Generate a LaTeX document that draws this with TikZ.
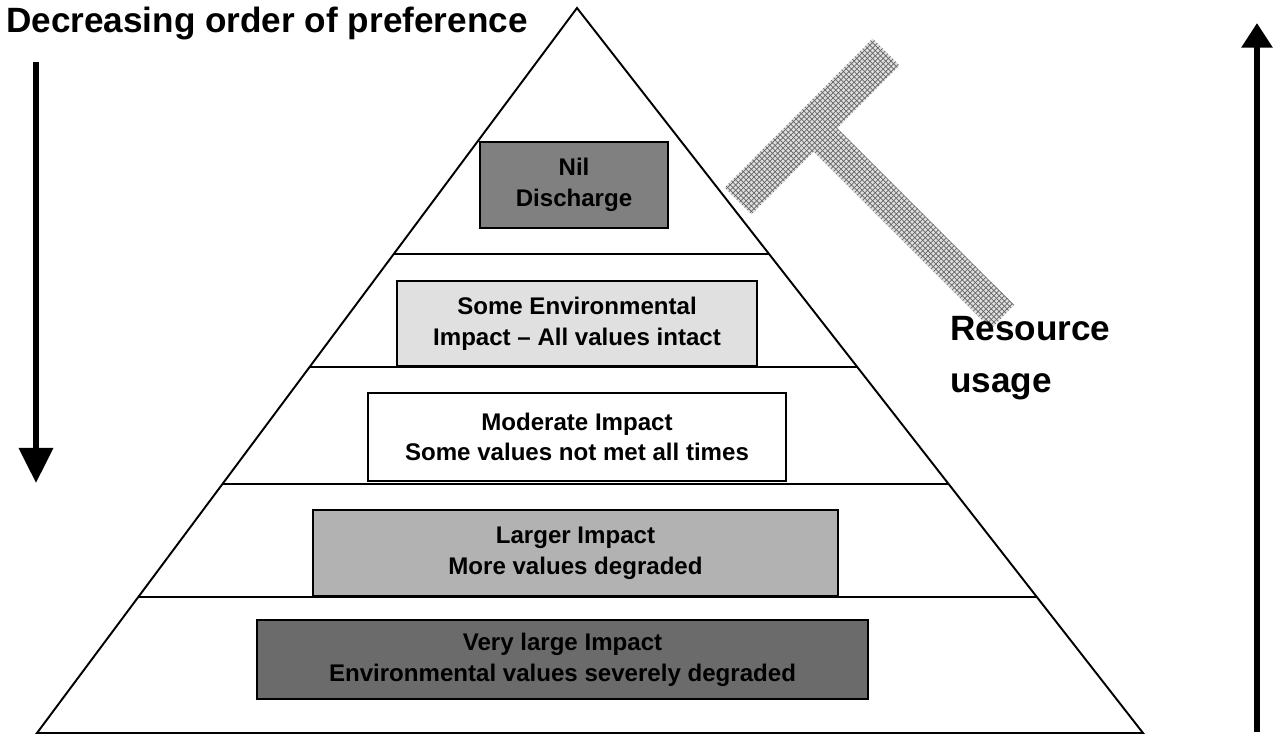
\documentclass[tikz,border=0pt]{standalone}
\usepackage{fontspec}
\setsansfont{Liberation Sans}
\usetikzlibrary{calc,arrows.meta,patterns}

\begin{document}
\begin{tikzpicture}[x=0.2mm, y=-0.2mm,
    layer/.style={draw=black, line width=1.2pt, rectangle, align=center, inner sep=0pt,
        font=\sffamily\bfseries\fontsize{13.7}{17.5}\selectfont},
    divider/.style={line width=1.3pt},
    bigarrow/.style={line width=3.4pt, draw=black}]
    \useasboundingbox (0,0) rectangle (1277,736);

    % pyramid outline
    \coordinate (apex) at (577,8);
    \coordinate (baseL) at (37,733);
    \coordinate (baseR) at (1143,733);
    \draw[line width=1.1pt, line join=miter] (apex) -- (baseL) -- (baseR) -- cycle;

    \draw[divider] ($(apex)!0.339!(baseL)$) -- ($(apex)!0.339!(baseR)$);
    \draw[divider] ($(apex)!0.495!(baseL)$) -- ($(apex)!0.495!(baseR)$);
    \draw[divider] ($(apex)!0.657!(baseL)$) -- ($(apex)!0.657!(baseR)$);
    \draw[divider] ($(apex)!0.812!(baseL)$) -- ($(apex)!0.812!(baseR)$);

    \node (Nil) [layer, fill=black!50, minimum width=37.6mm, minimum height=17.2mm] at (574,185)
    {Nil\\Discharge};
    \node (Some) [layer, fill=black!12, minimum width=72mm, minimum height=17mm] at (577,323.5)
    {Some Environmental\\Impact -- All values intact};
    \node (Moderate) [layer, fill=white, minimum width=83.6mm, minimum height=17.6mm] at (577,437)
    {Moderate Impact\\Some values not met all times};
    \node (Larger) [layer, fill=black!30, minimum width=105mm, minimum height=17.2mm] at (575.5,553)
    {Larger Impact\\More values degraded};
    \node (VeryLarge) [layer, fill=black!58, minimum width=122.2mm, minimum height=15.8mm] at (562.5,659.5)
    {Very large Impact\\Environmental values severely degraded};

    % hammer shape beside the pyramid
    \fill[gray!25] (724.6,187.6) -- (872.6,38.6) -- (899.4,65.4) -- (837.1,128.2) -- (1014,305)
        -- (991,329) -- (813.7,151.6) -- (751.4,214.4) -- cycle;
    \fill[pattern=crosshatch, pattern color=gray!80!black] (724.6,187.6) -- (872.6,38.6) -- (899.4,65.4)
        -- (837.1,128.2) -- (1014,305) -- (991,329) -- (813.7,151.6) -- (751.4,214.4) -- cycle;

    % labels and arrows
    \node (Pref) [anchor=base east, inner sep=0pt, font=\sffamily\bfseries\fontsize{20}{24}\selectfont] at (528,33)
    {Decreasing order of preference};
    \node (Usage) [anchor=base west, inner sep=0pt, align=left, font=\sffamily\bfseries\fontsize{20}{30}\selectfont] at (950,393)
    {Resource\\usage};

    \coordinate (prefTop) at (36,62);
    \coordinate (prefTip) at (36,483);
    \draw[bigarrow, -{Triangle[length=20pt, width=19pt]}] (prefTop) -- (prefTip);

    \coordinate (useBottom) at (1257,732);
    \coordinate (useTip) at (1257,23);
    \draw[bigarrow, -{Triangle[length=14pt, width=17pt]}] (useBottom) -- (useTip);
\end{tikzpicture}
\end{document}
